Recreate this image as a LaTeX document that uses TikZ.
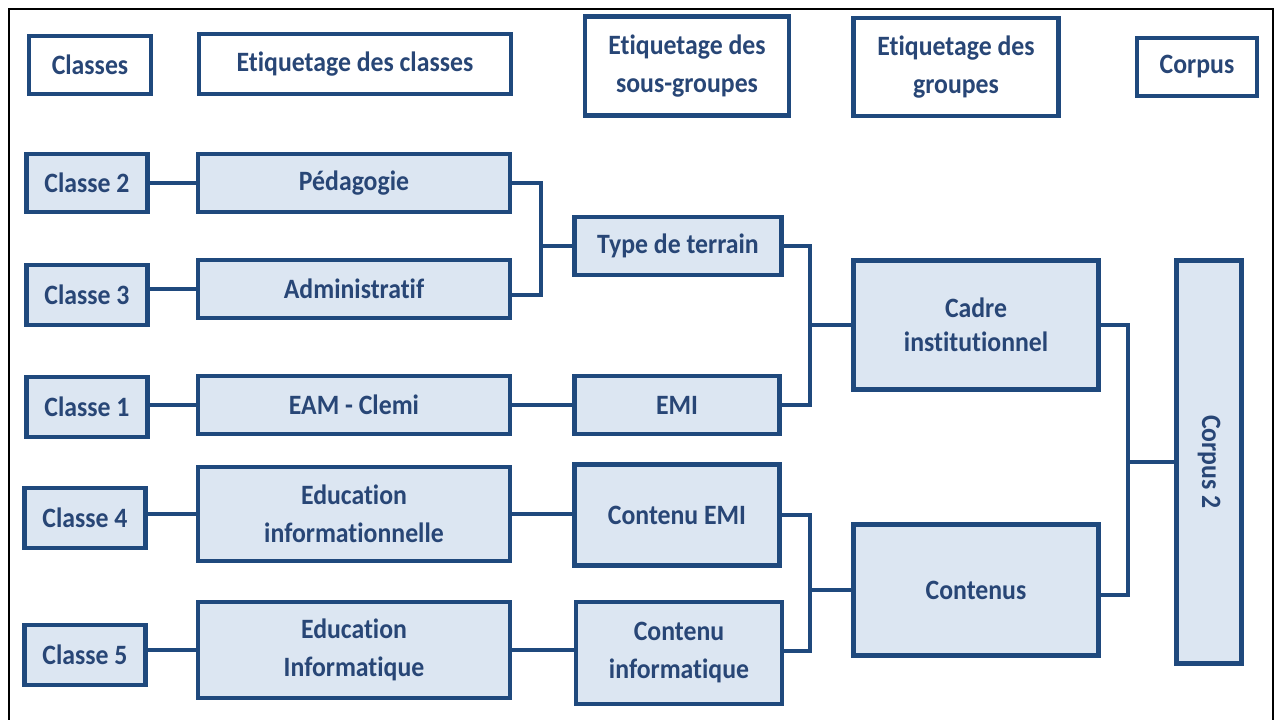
\documentclass[tikz,border=0pt]{standalone}
\usepackage{fontspec}
\setmainfont{Carlito}[FakeStretch=0.92, RawFeature=-liga]
\definecolor{bordblue}{RGB}{31,73,125}
\definecolor{fillblue}{RGB}{220,230,242}
\definecolor{txtblue}{RGB}{40,70,118}
\begin{document}
\begin{tikzpicture}[x=1pt,y=-1pt,
  every node/.style={font=\fontsize{28}{38}\selectfont\bfseries, text=txtblue, align=center, inner sep=0pt},
  hbox/.style={draw=bordblue, line width=4.5pt, fill=white},
  fbox/.style={draw=bordblue, line width=4.5pt, fill=fillblue},
  conn/.style={draw=bordblue, line width=4.5pt}]
\useasboundingbox (0,0) rectangle (1277,720);
\fill[white] (0,0) rectangle (1277,720);
\draw[black, line width=1.5pt] (9,720) -- (9,9) -- (1273,9) -- (1273,720);
% header
\node[hbox, minimum width=122, minimum height=58] (hClasses) at (90,65) {Classes};
\node[hbox, minimum width=312, minimum height=60] (hEtiq) at (355,64) {Etiquetage des classes};
\node[hbox, minimum width=204, minimum height=99] (hSous) at (687,66) {Etiquetage des\\sous-groupes};
\node[hbox, minimum width=205, minimum height=98] (hGroupes) at (956,67) {Etiquetage des\\groupes};
\node[hbox, minimum width=120, minimum height=58] (hCorpus) at (1197,67) {Corpus};
% classes
\node[fbox, minimum width=121, minimum height=58] (cl2) at (87,183) {Classe 2};
\node[fbox, minimum width=121, minimum height=60] (cl3) at (87,295) {Classe 3};
\node[fbox, minimum width=121, minimum height=60] (cl1) at (87,407) {Classe 1};
\node[fbox, minimum width=121, minimum height=60] (cl4) at (85,518) {Classe 4};
\node[fbox, minimum width=121, minimum height=60] (cl5) at (85,655) {Classe 5};
% labels
\node[fbox, minimum width=312, minimum height=58] (ped) at (354,183) {Pédagogie};
\node[fbox, minimum width=312, minimum height=58] (adm) at (354,289) {Administratif};
\node[fbox, minimum width=312, minimum height=58] (eam) at (354,405) {EAM - Clemi};
\node[fbox, minimum width=312, minimum height=94] (edinf) at (354,514) {Education\\informationnelle};
\node[fbox, minimum width=312, minimum height=96] (edinfo) at (354,650) {Education\\Informatique};
% sub-groups
\node[fbox, minimum width=207, minimum height=58] (tt) at (678,246) {Type de terrain};
\node[fbox, minimum width=205, minimum height=58] (emi) at (677,405) {EMI};
\node[fbox, minimum width=205, minimum height=101] (cemi) at (677,515) {Contenu EMI};
\node[fbox, minimum width=206, minimum height=102] (cinfo) at (679,653) {Contenu\\informatique};
% groups
\node[fbox, minimum width=245, minimum height=129, font=\fontsize{28}{34}\selectfont\bfseries] (cadre) at (976,325) {Cadre\\institutionnel};
\node[fbox, minimum width=245, minimum height=131] (contenus) at (976,590) {Contenus};
% corpus
\node[fbox, minimum width=403, minimum height=65, rotate=-90] (corpus2) at (1209,462) {Corpus 2};
% bracket coordinates
\coordinate (bx1) at (541,0);
\coordinate (bx2) at (810,0);
\coordinate (bx3) at (1128,0);
% connectors
\draw[conn] (cl2.east) -- (ped.west);
\draw[conn] (adm.west -| cl3.east) -- (adm.west);
\draw[conn] (eam.west -| cl1.east) -- (eam.west);
\draw[conn] (edinf.west -| cl4.east) -- (edinf.west);
\draw[conn] (edinfo.west -| cl5.east) -- (edinfo.west);
\draw[conn] (eam.east) -- (eam.east -| emi.west);
\draw[conn] (edinf.east) -- (edinf.east -| cemi.west);
\draw[conn] (edinfo.east) -- (edinfo.east -| cinfo.west);
\draw[conn] (ped.east) -- (ped.east -| bx1) -- ([yshift=-6pt]adm.east -| bx1) -- ([yshift=-6pt]adm.east);
\draw[conn] (bx1 |- tt.west) -- (tt.west);
\draw[conn] (tt.east) -- (tt.east -| bx2) -- (emi.east -| bx2) -- (emi.east);
\draw[conn] (bx2 |- cadre.west) -- (cadre.west);
\draw[conn] (cemi.east) -- (cemi.east -| bx2) -- ([yshift=2pt]cinfo.east -| bx2) -- ([yshift=2pt]cinfo.east);
\draw[conn] (bx2 |- contenus.west) -- (contenus.west);
\draw[conn] (cadre.east) -- (cadre.east -| bx3) -- ([yshift=-5pt]contenus.east -| bx3) -- ([yshift=-5pt]contenus.east);
\draw[conn] (bx3 |- corpus2.south) -- (corpus2.south);
\end{tikzpicture}
\end{document}
